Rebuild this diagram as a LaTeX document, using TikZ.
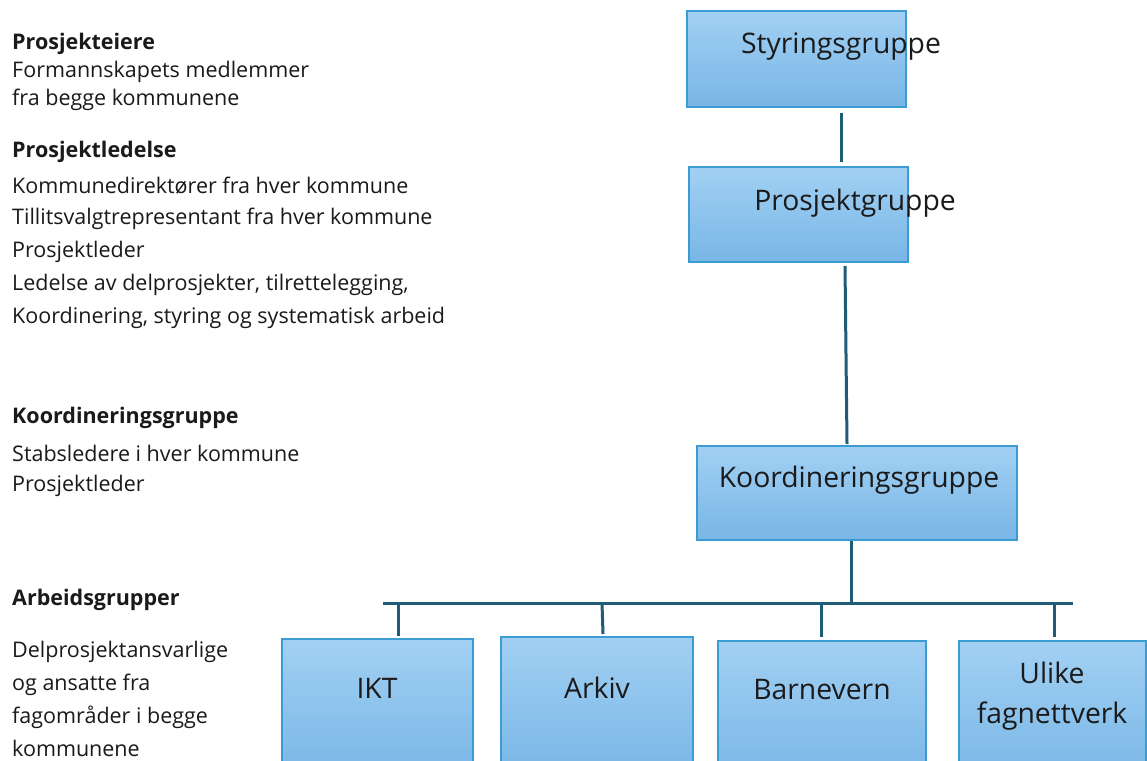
\documentclass[tikz,border=0pt]{standalone}
\usepackage{fontspec}
\setmainfont{Open Sans}
\definecolor{boxtop}{HTML}{A2D0F3}
\definecolor{boxbot}{HTML}{78B6E6}
\definecolor{boxline}{HTML}{3D9BD3}
\definecolor{conn}{HTML}{1F5C78}
\definecolor{txt}{HTML}{1A1A1A}
\tikzset{
  orgbox/.style={draw=boxline, line width=2pt, top color=boxtop, bottom color=boxbot, inner sep=0pt},
  orgtext/.style={font=\fontsize{28.3}{40}\selectfont, text=txt, align=center},
  side/.style={anchor=west, font=\fontsize{21.5}{24}\selectfont, text=txt, inner sep=0pt},
  sidehead/.style={side, font=\fontsize{21.5}{24}\selectfont\bfseries},
  link/.style={draw=conn, line width=3pt}
}
\begin{document}
\begin{tikzpicture}[x=1pt,y=-1pt]
\useasboundingbox (0,0) rectangle (1147,760);
\clip (0,0) rectangle (1147,760);
\fill[white] (0,0) rectangle (1147,760);
% boxes
\node[orgbox, minimum width=219pt, minimum height=96pt] (sty) at (796.5,59) {};
\node[orgtext] at (841,47) {Styringsgruppe};
\node[orgbox, minimum width=219pt, minimum height=95pt] (pro) at (798.5,214.5) {};
\node[orgtext] at (855,203) {Prosjektgruppe};
\node[orgbox, minimum width=320pt, minimum height=94pt] (koo) at (857,493) {};
\node[orgtext] at (859,480) {Koordineringsgruppe};
\node[orgbox, minimum width=191pt, minimum height=140pt] (ikt) at (377.5,709) {};
\node[orgtext] at (377,688) {IKT};
\node[orgbox, minimum width=192pt, minimum height=140pt] (ark) at (597,707) {};
\node[orgtext] at (597,688) {Arkiv};
\node[orgbox, minimum width=208pt, minimum height=140pt] (bar) at (822,711) {};
\node[orgtext] at (822,690) {Barnevern};
\node[orgbox, minimum width=187pt, minimum height=140pt] (uli) at (1052.5,711) {};
\node[orgtext] at (1052,696) {Ulike\\fagnettverk};
% connectors
\coordinate (b1) at (841,113);
\coordinate (b2) at (845,266);
\coordinate (bus) at (851,603);
\coordinate (busL) at (383,603);
\coordinate (busR) at (1073,603);
\draw[link] (b1) -- (841,162);
\draw[link] (b2) -- (847,444);
\draw[link] (851,541) -- (bus);
\draw[link] (busL) -- (busR);
\draw[link] (398,603) -- (398,636);
\draw[link] (602,603) -- (603,634);
\draw[link] (821,603) -- (821,637);
\draw[link] (1054,603) -- (1054,637);
% side texts
\node[sidehead] (h1) at (12,44) {Prosjekteiere};
\node[side] at (12,72) {Formannskapets medlemmer};
\node[side] at (12,100) {fra begge kommunene};
\node[sidehead] (h2) at (12,152) {Prosjektledelse};
\node[side] at (12,186) {Kommunedirektører fra hver kommune};
\node[side] at (12,219) {Tillitsvalgtrepresentant fra hver kommune};
\node[side] at (12,252) {Prosjektleder};
\node[side] at (12,285) {Ledelse av delprosjekter, tilrettelegging,};
\node[side] at (12,318) {Koordinering, styring og systematisk arbeid};
\node[sidehead] (h3) at (12,418) {Koordineringsgruppe};
\node[side] at (12,453) {Stabsledere i hver kommune};
\node[side] at (12,486) {Prosjektleder};
\node[sidehead] (h4) at (12,600) {Arbeidsgrupper};
\node[side] at (12,652) {Delprosjektansvarlige};
\node[side] at (12,685) {og ansatte fra};
\node[side] at (12,717) {fagområder i begge};
\node[side] at (12,748) {kommunene};
\end{tikzpicture}
\end{document}
